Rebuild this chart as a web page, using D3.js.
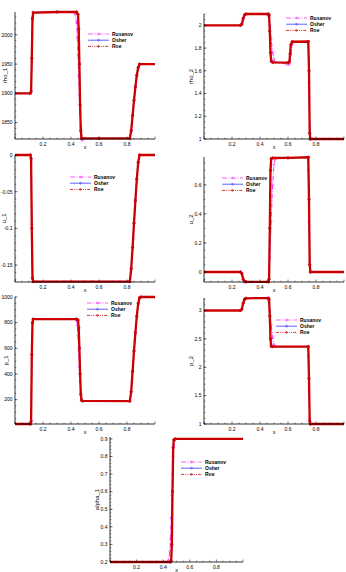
<!DOCTYPE html>
<meta charset="utf-8">
<script src="https://d3js.org/d3.v7.min.js"></script>
<style>
  body { margin: 0; background: #fff; }
  svg text { font-family: "Liberation Sans", Arial, sans-serif; fill: #000; }
</style>
<div id="my_dataviz"></div>
<script>
// ---- data ----
var schemes = ["Rusanov", "Osher", "Roe"];
var xTicks = [0.2, 0.4, 0.6, 0.8];

var rho1Roe = [[0,1900],[0.11,1900],[0.115,1903],[0.12,1960],[0.125,2028],[0.13,2038],[0.3,2039],[0.44,2039],[0.45,2035],[0.455,2010],[0.46,1950],[0.465,1880],[0.47,1836],[0.475,1823],[0.6,1823],[0.82,1823],[0.83,1836],[0.84,1862],[0.85,1888],[0.86,1911],[0.87,1931],[0.88,1944],[0.89,1950],[1,1950]];
var rho1Osher = rho1Roe;
var rho1Rusanov = [[0,1900],[0.11,1900],[0.115,1906],[0.12,1955],[0.125,2024],[0.13,2037],[0.42,2039],[0.43,2035],[0.44,2020],[0.445,1996],[0.45,1966],[0.455,1930],[0.46,1896],[0.465,1866],[0.47,1843],[0.475,1828],[0.48,1820],[0.49,1822],[0.82,1823],[0.83,1838],[0.84,1863],[0.85,1889],[0.86,1911],[0.87,1930],[0.88,1943],[0.89,1949],[1,1950]];
var rho1Ticks = [1850, 1900, 1950, 2000];

var rho2Roe = [[0,2],[0.26,2],[0.27,2.01],[0.28,2.06],[0.29,2.093],[0.3,2.1],[0.46,2.1],[0.465,2.09],[0.47,1.95],[0.475,1.76],[0.48,1.685],[0.49,1.675],[0.6,1.672],[0.61,1.68],[0.615,1.75],[0.62,1.83],[0.63,1.856],[0.745,1.858],[0.75,1.6],[0.755,1.05],[0.76,1],[1,1]];
var rho2Osher = rho2Roe;
var rho2Rusanov = [[0,2],[0.26,2],[0.27,2.015],[0.28,2.06],[0.29,2.09],[0.3,2.1],[0.45,2.1],[0.46,2.08],[0.47,2.0],[0.48,1.88],[0.49,1.76],[0.5,1.7],[0.51,1.675],[0.58,1.664],[0.6,1.652],[0.61,1.662],[0.62,1.74],[0.63,1.83],[0.64,1.856],[0.74,1.858],[0.745,1.8],[0.75,1.5],[0.755,1.1],[0.76,1],[1,1]];
var rho2Ticks = [1, 1.2, 1.4, 1.6, 1.8, 2];

var u1Roe = [[0,0],[0.11,0],[0.115,-0.005],[0.12,-0.1],[0.125,-0.168],[0.13,-0.1725],[0.82,-0.1725],[0.83,-0.155],[0.84,-0.126],[0.85,-0.093],[0.86,-0.062],[0.87,-0.033],[0.88,-0.01],[0.89,0],[1,0]];
var u1Osher = u1Roe;
var u1Rusanov = [[0,0],[0.11,0],[0.115,-0.008],[0.12,-0.095],[0.125,-0.165],[0.13,-0.172],[0.82,-0.172],[0.83,-0.154],[0.84,-0.125],[0.85,-0.092],[0.86,-0.061],[0.87,-0.032],[0.88,-0.01],[0.89,0],[1,0]];
var u1Ticks = [-0.15, -0.1, -0.05, 0];

var u2Roe = [[0,0],[0.26,0],[0.27,-0.01],[0.28,-0.05],[0.29,-0.066],[0.3,-0.068],[0.46,-0.068],[0.465,-0.05],[0.47,0.3],[0.475,0.7],[0.48,0.78],[0.49,0.785],[0.6,0.786],[0.745,0.79],[0.75,0.5],[0.755,0.05],[0.76,0],[1,0]];
var u2Osher = u2Roe;
var u2Rusanov = [[0,0],[0.26,0],[0.27,-0.012],[0.28,-0.05],[0.29,-0.065],[0.3,-0.068],[0.45,-0.068],[0.46,-0.05],[0.47,0.1],[0.48,0.35],[0.49,0.6],[0.5,0.74],[0.51,0.78],[0.6,0.786],[0.74,0.79],[0.745,0.7],[0.75,0.35],[0.755,0.05],[0.76,0],[1,0]];
var u2Ticks = [0, 0.2, 0.4, 0.6];

var p1Roe = [[0,10],[0.11,10],[0.115,30],[0.12,550],[0.125,800],[0.13,828],[0.44,828],[0.45,820],[0.455,760],[0.46,600],[0.465,400],[0.47,240],[0.475,195],[0.48,190],[0.82,188],[0.83,262],[0.84,420],[0.85,580],[0.86,722],[0.87,850],[0.88,950],[0.89,995],[0.9,1000],[1,1000]];
var p1Osher = p1Roe;
var p1Rusanov = [[0,10],[0.11,10],[0.115,40],[0.12,520],[0.125,790],[0.13,826],[0.43,828],[0.44,815],[0.445,780],[0.45,700],[0.455,580],[0.46,450],[0.465,340],[0.47,260],[0.475,210],[0.48,192],[0.49,188],[0.82,188],[0.83,258],[0.84,415],[0.85,575],[0.86,718],[0.87,845],[0.88,945],[0.89,993],[0.9,1000],[1,1000]];
var p1Ticks = [200, 400, 600, 800, 1000];

var p2Roe = [[0,3],[0.26,3],[0.27,3.02],[0.28,3.13],[0.29,3.2],[0.3,3.215],[0.46,3.218],[0.465,3.2],[0.47,2.9],[0.475,2.5],[0.48,2.37],[0.49,2.364],[0.745,2.364],[0.75,1.8],[0.755,1.05],[0.76,1],[1,1]];
var p2Osher = p2Roe;
var p2Rusanov = [[0,3],[0.26,3],[0.27,3.025],[0.28,3.12],[0.29,3.19],[0.3,3.212],[0.45,3.218],[0.46,3.17],[0.47,3.0],[0.48,2.75],[0.49,2.52],[0.5,2.4],[0.51,2.365],[0.74,2.364],[0.745,2.2],[0.75,1.6],[0.755,1.1],[0.76,1],[1,1]];
var p2Ticks = [1, 1.5, 2, 2.5, 3];

var alpha1Roe = [[0,0.2],[0.455,0.2],[0.46,0.205],[0.465,0.3],[0.47,0.6],[0.475,0.85],[0.48,0.895],[0.49,0.9],[1,0.9]];
var alpha1Osher = alpha1Roe;
var alpha1Rusanov = [[0,0.2],[0.43,0.2],[0.44,0.21],[0.45,0.26],[0.455,0.33],[0.46,0.45],[0.465,0.58],[0.47,0.7],[0.475,0.8],[0.48,0.86],[0.485,0.89],[0.49,0.9],[1,0.9]];
var alpha1Ticks = [0.2, 0.3, 0.4, 0.5, 0.6, 0.7, 0.8, 0.9];

// ---- layout of the seven panels (pixel boxes) ----
var panels = [
  {name: "rho_1", series: [rho1Rusanov, rho1Osher, rho1Roe], domain: [1822, 2039], ticks: rho1Ticks, minor: 10, box: [15, 155, 12, 139], legend: [88, 34], title: -8},
  {name: "rho_2", series: [rho2Rusanov, rho2Osher, rho2Roe], domain: [1, 2.1], ticks: rho2Ticks, minor: 0.05, box: [204, 344, 14, 139], legend: [286, 18], title: -11},
  {name: "u_1", series: [u1Rusanov, u1Osher, u1Roe], domain: [-0.173, 0], ticks: u1Ticks, minor: 0.01, box: [15, 155, 155, 282], legend: [70, 177], title: -9},
  {name: "u_2", series: [u2Rusanov, u2Osher, u2Roe], domain: [-0.069, 0.792], ticks: u2Ticks, minor: 0.05, box: [204, 344, 157, 282], legend: [222, 178], title: -11},
  {name: "p_1", series: [p1Rusanov, p1Osher, p1Roe], domain: [10, 1000], ticks: p1Ticks, minor: 50, box: [15, 155, 297, 424], legend: [87, 303], title: -7},
  {name: "p_2", series: [p2Rusanov, p2Osher, p2Roe], domain: [1, 3.22], ticks: p2Ticks, minor: 0.1, box: [204, 344, 298, 424], legend: [276, 320], title: -11},
  {name: "alpha_1", series: [alpha1Rusanov, alpha1Osher, alpha1Roe], domain: [0.2, 0.911], ticks: alpha1Ticks, minor: 0.02, box: [110, 243, 437, 562], legend: [181, 462], title: -11}
];

var colors = {Rusanov: "#ff33ff", Osher: "#3a3aff", Roe: "#cc0000"};
var dashes = {Rusanov: "5,1.5,1,1.5", Osher: null, Roe: "3,1.2,1,1.2,1,1.2"};
var widths = {Rusanov: 1, Osher: 1, Roe: 2.3};

var svg = d3.select("#my_dataviz")
  .append("svg")
  .attr("width", 346)
  .attr("height", 572);

panels.forEach(function(p) {
  var x = d3.scaleLinear().domain([0, 1]).range([p.box[0], p.box[1]]);
  var y = d3.scaleLinear().domain(p.domain).range([p.box[3], p.box[2]]);
  var g = svg.append("g");

  // curves
  var line = d3.line().x(function(d) { return x(d[0]); }).y(function(d) { return y(d[1]); });
  p.series.forEach(function(s, i) {
    var k = schemes[i];
    g.append("path")
      .attr("d", line(s))
      .attr("fill", "none")
      .attr("stroke", colors[k])
      .attr("stroke-width", widths[k])
      .attr("stroke-dasharray", k == "Rusanov" ? dashes[k] : null);
    g.selectAll(null)
      .data(s.filter(function(d) { return d[0] > 0 && d[0] < 1; }))
      .enter()
      .append("circle")
      .attr("cx", function(d) { return x(d[0]); })
      .attr("cy", function(d) { return y(d[1]); })
      .attr("r", k == "Roe" ? 1.2 : 0.9)
      .attr("fill", "none")
      .attr("stroke", colors[k])
      .attr("stroke-width", 0.7);
  });

  // x axis (ticks inward)
  var xa = g.append("g").attr("transform", "translate(0," + p.box[3] + ")");
  xa.append("line").attr("x1", p.box[0]).attr("x2", p.box[1]).attr("stroke", "#000").attr("stroke-width", 0.8);
  xa.selectAll(null).data(d3.range(0, 1.0001, 0.05)).enter().append("line")
    .attr("x1", function(d) { return x(d); }).attr("x2", function(d) { return x(d); })
    .attr("y1", 0).attr("y2", function(d) { return Math.abs(d * 5 - Math.round(d * 5)) < 1e-6 ? -2.5 : -1.3; })
    .attr("stroke", "#000").attr("stroke-width", 0.5);
  xa.selectAll(null).data(xTicks).enter().append("text")
    .attr("x", function(d) { return x(d); }).attr("y", 6.5)
    .attr("text-anchor", "middle").style("font-size", "5px")
    .text(function(d) { return d; });
  xa.append("text")
    .attr("x", (p.box[0] + p.box[1]) / 2).attr("y", 9.8)
    .attr("text-anchor", "middle").style("font-size", "5.5px")
    .text("x");

  // y axis (ticks inward)
  var ya = g.append("g").attr("transform", "translate(" + p.box[0] + ",0)");
  ya.append("line").attr("y1", p.box[2]).attr("y2", p.box[3]).attr("stroke", "#000").attr("stroke-width", 0.8);
  var lo = Math.ceil(p.domain[0] / p.minor - 1e-6), hi = Math.floor(p.domain[1] / p.minor + 1e-6);
  ya.selectAll(null).data(d3.range(lo, hi + 1).map(function(i) { return i * p.minor; })).enter().append("line")
    .attr("y1", function(d) { return y(d); }).attr("y2", function(d) { return y(d); })
    .attr("x1", 0).attr("x2", 1.3)
    .attr("stroke", "#000").attr("stroke-width", 0.5);
  ya.selectAll(null).data(p.ticks).enter().append("line")
    .attr("y1", function(d) { return y(d); }).attr("y2", function(d) { return y(d); })
    .attr("x1", 0).attr("x2", 2.5)
    .attr("stroke", "#000").attr("stroke-width", 0.5);
  ya.selectAll(null).data(p.ticks).enter().append("text")
    .attr("x", -2.5).attr("y", function(d) { return y(d) + 1.8; })
    .attr("text-anchor", "end").style("font-size", "5px")
    .text(function(d) { return d; });
  var mid = (p.box[2] + p.box[3]) / 2;
  ya.append("text")
    .attr("transform", "translate(" + p.title + "," + mid + ") rotate(-90)")
    .attr("text-anchor", "middle").style("font-size", "6px")
    .text(p.name);

  // legend
  var lg = g.append("g").attr("transform", "translate(" + p.legend[0] + "," + p.legend[1] + ")");
  schemes.forEach(function(k, i) {
    var yy = i * 6.2;
    lg.append("line").attr("x1", 0).attr("x2", 21).attr("y1", yy).attr("y2", yy)
      .attr("stroke", colors[k]).attr("stroke-width", 0.8).attr("stroke-dasharray", dashes[k]);
    lg.append("circle").attr("cx", 10.5).attr("cy", yy).attr("r", 0.9)
      .attr("fill", "none").attr("stroke", colors[k]).attr("stroke-width", 0.6);
    lg.append("text").attr("x", 24).attr("y", yy + 1.8)
      .style("font-size", "5px").style("font-weight", "bold")
      .text(k);
  });
});
</script>
